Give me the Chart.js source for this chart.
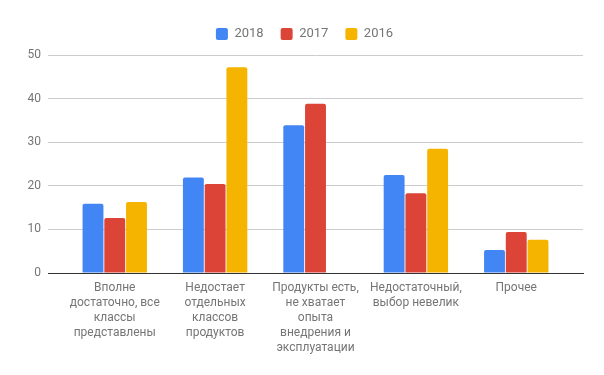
<!DOCTYPE html>
<html>
<head>
<meta charset="utf-8">
<script src="https://cdn.jsdelivr.net/npm/chart.js@4/dist/chart.umd.min.js"></script>
<style>
  html, body { margin: 0; padding: 0; background: #fff; }
  #wrap { width: 604px; height: 375px; position: relative; }
</style>
</head>
<body>
<div id="wrap"><canvas id="chart"></canvas></div>
<script>
// categories (multi-line labels as in the picture)
const categories = [
    ['Вполне', 'достаточно, все', 'классы', 'представлены'],
    ['Недостает', 'отдельных', 'классов', 'продуктов'],
    ['Продукты есть,', 'не хватает', 'опыта', 'внедрения и', 'эксплуатации'],
    ['Недостаточный,', 'выбор невелик'],
    ['Прочее']
];
const seriesNames = ['2018', '2017', '2016'];
const values2018 = [15.9, 21.9, 33.9, 22.5, 5.3];
const values2017 = [12.6, 20.4, 38.8, 18.3, 9.4];
const values2016 = [16.3, 47.2, null, 28.5, 7.6];
const yTicks = [0, 10, 20, 30, 40, 50];

const colors = ['#4285F4', '#DB4437', '#F4B400'];
const textGray = '#757575';

// legend box height fixed so the plot starts where it does in the picture
const legendHeight = {
    id: 'legendHeight',
    beforeInit(chart) {
        const fit = chart.legend.fit;
        chart.legend.fit = function() {
            fit.call(this);
            this.height = 44.5;
        };
    },
    afterLayout(chart) {
        // legend is centred on the whole page, not on the plot
        chart.legend.left += 13;
        chart.legend.right += 13;
    }
};

// categories sit inside the gridlines with a margin on both sides
const categoryInset = {
    id: 'categoryInset',
    afterLayout(chart) {
        const x = chart.scales.x;
        const pad = 0.165;
        x._startValue = -0.5 - pad;
        x._valueRange = categories.length + 2 * pad;
    }
};

const ds = [values2018, values2017, values2016].map((vals, i) => ({
    label: seriesNames[i],
    data: vals,
    backgroundColor: colors[i],
    borderRadius: { topLeft: 2, topRight: 2 },
    borderSkipped: 'bottom',
    categoryPercentage: 0.65,
    barPercentage: 0.96
}));

new Chart(document.getElementById('chart'), {
    type: 'bar',
    data: { labels: categories, datasets: ds },
    options: {
        responsive: true,
        maintainAspectRatio: false,
        animation: false,
        layout: { padding: { top: 10.5, right: 21, left: 0, bottom: 0 } },
        plugins: {
            tooltip: { enabled: false },
            legend: {
                position: 'top',
                labels: {
                    boxWidth: 12,
                    boxHeight: 12,
                    useBorderRadius: true,
                    borderRadius: 2,
                    padding: 17,
                    color: textGray,
                    font: { family: 'Roboto', size: 13 }
                }
            }
        },
        scales: {
            x: {
                grid: { display: false, drawTicks: false },
                border: { display: true, color: '#333333', width: 1 },
                ticks: {
                    color: textGray,
                    font: { family: 'Roboto', size: 12, lineHeight: 1.25 },
                    padding: 7,
                    maxRotation: 0,
                    autoSkip: false
                },
                afterFit(scale) { scale.height = 102; }
            },
            y: {
                min: 0,
                max: 50,
                afterBuildTicks(scale) { scale.ticks = yTicks.map(v => ({ value: v })); },
                grid: { color: '#cccccc', drawTicks: false },
                border: { display: false },
                ticks: {
                    color: textGray,
                    font: { family: 'Roboto', size: 12 },
                    padding: 7
                },
                afterFit(scale) { scale.width = 48; }
            }
        }
    },
    plugins: [legendHeight, categoryInset]
});
</script>
</body>
</html>
